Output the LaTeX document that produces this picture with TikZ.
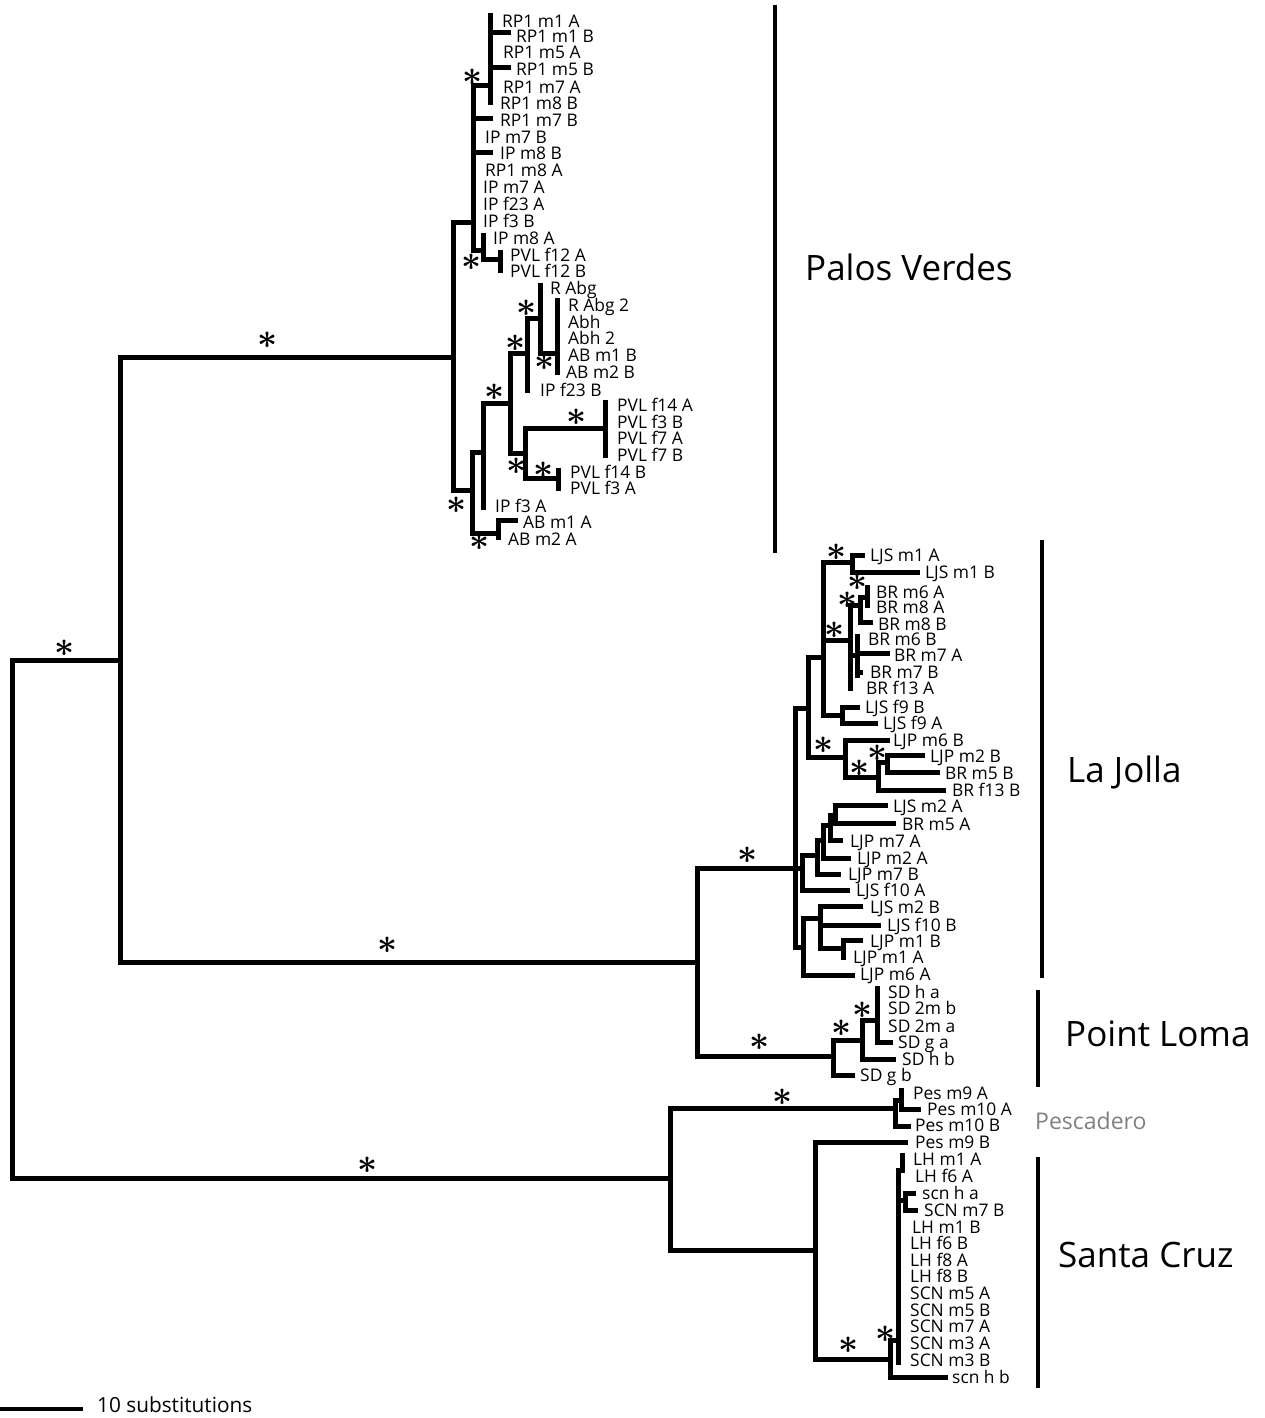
\documentclass[tikz,border=0pt]{standalone}
\usepackage{graphicx}
\usepackage{fontspec}
\setmainfont{Open Sans}
\usetikzlibrary{positioning}

\begin{document}
\begin{tikzpicture}[x=1pt, y=-1pt,
  br/.style={line width=5pt, line cap=rect},
  bar/.style={line width=3.2pt},
  leaf/.style={anchor=base west, inner sep=0pt, yshift=-6.2pt, font=\fontsize{17.4}{19}\selectfont},
  supp/.style={inner sep=-2pt, font=\fontsize{24.88}{26}\selectfont\boldmath},
  clade/.style={anchor=base west, inner sep=0pt, yshift=-12.5pt, font=\fontsize{35}{40}\selectfont}]
  \useasboundingbox (0,0) rectangle (1265,1418);

  % horizontal branches x1/x2/y
  \foreach \xa/\xb/\y in {12/120/660, 12/670/1178, 120/453/357, 120/697/962,
      697/795/868, 697/833/1056, 670/895/1108, 670/815/1250,
      453/473/222, 453/472/490, 473/490/86, 473/490/119, 473/490/152, 473/483/250,
      490/508/33, 490/508/68, 483/500/259, 472/483/452, 472/498/533, 483/510/403,
      510/527/353, 510/525/453, 527/540/318, 540/557/353, 525/605/428, 525/558/478,
      498/515/520,
      795/808/708, 808/823/657, 808/845/757, 823/852/562, 823/850/640, 823/842/715,
      852/862/555, 852/917/572, 850/860/605, 860/867/597, 860/870/622, 850/857/655,
      857/887/653, 857/860/672, 842/857/707, 842/875/723, 845/887/740, 845/878/777,
      878/887/762, 878/943/790, 887/922/755, 887/937/772,
      795/802/868, 802/817/855, 817/823/840, 823/830/825, 830/835/815, 835/885/805,
      835/893/823, 830/840/840, 823/848/858, 817/838/874, 802/847/890,
      795/803/947, 803/852/975, 803/820/918, 820/860/906, 820/878/925, 820/843/948,
      843/860/940,
      833/852/1075, 833/862/1040, 862/893/1059, 862/877/1020, 877/890/1042,
      895/901/1100, 901/918/1109, 895/908/1126, 815/905/1142, 815/890/1359,
      890/945/1377, 890/898/1340, 898/905/1200, 905/913/1193, 905/915/1210}
    \draw[br] (\xa,\y) -- (\xb,\y);

  % vertical branches x/y1/y2
  \foreach \x/\ya/\yb in {12/660/1178, 120/357/962, 697/868/1056, 670/1108/1250,
      453/222/490, 473/86/250, 490/16/103, 483/235/259, 500/252/270, 472/452/533,
      483/403/507, 510/353/453, 527/318/390, 540/285/353, 557/300/372, 525/428/478,
      605/402/455, 558/470/488, 498/520/537,
      795/708/947, 808/657/757, 823/562/715, 852/555/572, 850/605/688, 860/597/622,
      867/587/605, 857/636/675, 842/707/723, 845/740/777, 878/762/790, 887/755/772,
      802/855/890, 817/840/874, 823/825/858, 830/815/840, 835/805/823,
      803/918/975, 820/906/948, 843/940/957,
      833/1040/1075, 862/1020/1059, 877/988/1042,
      895/1100/1126, 901/1090/1109, 815/1142/1359, 890/1340/1377, 898/1170/1362,
      902/1155/1170, 905/1193/1210}
    \draw[br] (\x,\ya) -- (\x,\yb);

  % support marks
  \foreach \x/\y [count=\n] in {268/340, 65/648, 368/1165, 388/945, 748/855, 760/1042,
      783/1097, 473/77, 472/262, 527/308, 516/343, 545/362, 495/392, 577/417,
      517/466, 544/470, 457/505, 480/542, 837/552, 858/582, 848/600, 835/630,
      824/745, 860/768, 878/753, 842/1028, 863/1010, 849/1345, 886/1334}
    \node[supp] (s\n) at (\x,\y) {\scalebox{1.4}{$\ast$}};

  % leaves
  \foreach \x/\y/\lbl [count=\n] in {502/21/RP1 m1 A, 516/36/RP1 m1 B, 503/52/RP1 m5 A,
      516/69/RP1 m5 B, 503/87/RP1 m7 A, 500/103/RP1 m8 B, 500/120/RP1 m7 B,
      485/137/IP m7 B, 500/153/IP m8 B, 485/170/RP1 m8 A, 483/187/IP m7 A,
      483/204/IP f23 A, 483/221/IP f3 B, 493/238/IP m8 A, 510/255/PVL f12 A,
      510/271/PVL f12 B, 550/288/R Abg, 568/305/R Abg 2, 568/322/Abh, 568/338/Abh 2,
      568/355/AB m1 B, 566/372/AB m2 B, 540/390/IP f23 B, 617/405/PVL f14 A,
      617/422/PVL f3 B, 617/438/PVL f7 A, 617/455/PVL f7 B, 570/472/PVL f14 B,
      570/488/PVL f3 A, 495/506/IP f3 A, 523/522/AB m1 A, 508/539/AB m2 A}
    \node[leaf] (pv\n) at (\x,\y) {\lbl};
  \foreach \x/\y/\lbl [count=\n] in {870/555/LJS m1 A, 925/572/LJS m1 B, 876/592/BR m6 A,
      876/607/BR m8 A, 878/624/BR m8 B, 868/639/BR m6 B, 894/655/BR m7 A,
      870/672/BR m7 B, 866/688/BR f13 A, 865/707/LJS f9 B, 883/723/LJS f9 A,
      893/740/LJP m6 B, 930/756/LJP m2 B, 945/773/BR m5 B, 952/790/BR f13 B,
      893/806/LJS m2 A, 902/824/BR m5 A, 850/841/LJP m7 A, 857/858/LJP m2 A,
      848/874/LJP m7 B, 856/890/LJS f10 A, 870/907/LJS m2 B, 887/925/LJS f10 B,
      870/941/LJP m1 B, 853/957/LJP m1 A, 860/974/LJP m6 A}
    \node[leaf] (lj\n) at (\x,\y) {\lbl};
  \foreach \x/\y/\lbl [count=\n] in {888/992/SD h a, 888/1008/SD 2m b, 888/1026/SD 2m a,
      898/1042/SD g a, 902/1059/SD h b, 860/1075/SD g b}
    \node[leaf] (pl\n) at (\x,\y) {\lbl};
  \foreach \x/\y/\lbl [count=\n] in {913/1093/Pes m9 A, 927/1109/Pes m10 A,
      915/1125/Pes m10 B, 915/1142/Pes m9 B, 913/1159/LH m1 A, 915/1176/LH f6 A,
      922/1193/scn h a, 924/1210/SCN m7 B, 912/1227/LH m1 B, 910/1243/LH f6 B,
      910/1260/LH f8 A, 910/1276/LH f8 B, 910/1293/SCN m5 A, 910/1310/SCN m5 B,
      910/1326/SCN m7 A, 910/1343/SCN m3 A, 910/1360/SCN m3 B, 952/1377/scn h b}
    \node[leaf] (sc\n) at (\x,\y) {\lbl};

  % clade bars and names
  \draw[bar] (775,5) -- (775,553);
  \draw[bar] (1042,540) -- (1042,978);
  \draw[bar] (1038,990) -- (1038,1087);
  \draw[bar] (1038,1157) -- (1038,1388);
  \node[clade] (pv) at (805,268) {Palos Verdes};
  \node[clade] (lj) at (1067,770) {La Jolla};
  \node[clade] (pl) at (1065,1034) {Point Loma};
  \node[clade] (sc) at (1058,1255) {Santa Cruz};
  \node[leaf, text=gray, yshift=-2pt, font=\fontsize{23}{26}\selectfont] (pes) at (1035,1121) {Pescadero};

  % scale
  \draw[line width=4pt] (0,1409) -- (83,1409);
  \node[leaf, yshift=-1pt, font=\fontsize{20.8}{22}\selectfont] (scale) at (97,1405) {10 substitutions};
\end{tikzpicture}
\end{document}
